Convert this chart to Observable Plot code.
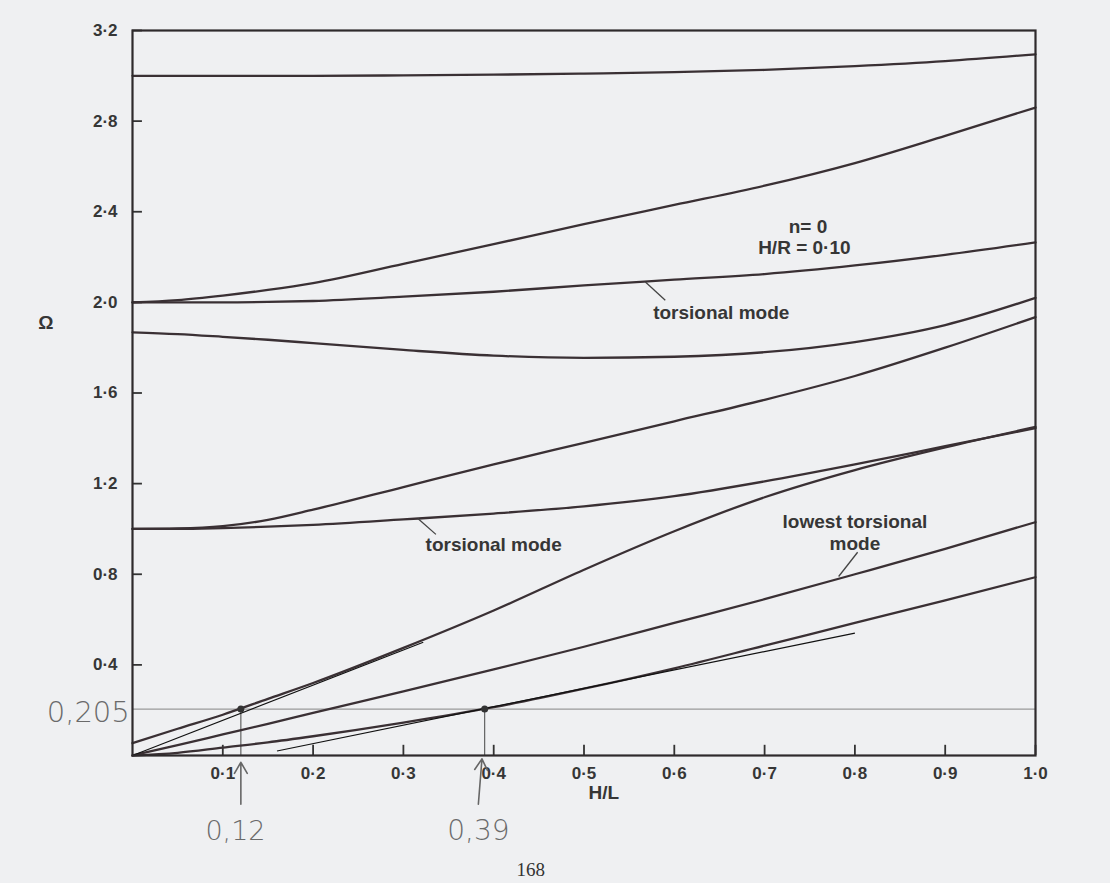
<!DOCTYPE html>
<html><head><meta charset="utf-8">
<script src="https://cdn.jsdelivr.net/npm/d3@7"></script>
<script src="https://cdn.jsdelivr.net/npm/@observablehq/plot@0.6"></script>
<style>
html,body{margin:0;padding:0;background:#eff0f2;}
</style></head><body><div id="chart"></div>
<script>
// shared H/L sample points
const xGrid = [0, 0.05, 0.1, 0.15, 0.2, 0.3, 0.4, 0.5, 0.6, 0.7, 0.8, 0.9, 1.0];
// Ω values of each branch
const modeTop      = [3.00, 3.00, 3.00, 3.00, 3.00, 3.002, 3.005, 3.01, 3.016, 3.026, 3.043, 3.065, 3.095];
const modeRising2  = [2.00, 2.01, 2.03, 2.055, 2.085, 2.17, 2.257, 2.345, 2.43, 2.515, 2.615, 2.735, 2.86];
const torsional2   = [2.00, 2.00, 2.00, 2.002, 2.006, 2.025, 2.047, 2.075, 2.10, 2.125, 2.163, 2.21, 2.265];
const modeDip      = [1.868, 1.86, 1.848, 1.835, 1.82, 1.79, 1.765, 1.755, 1.76, 1.78, 1.825, 1.90, 2.02];
const modeRising1  = [1.00, 1.002, 1.012, 1.04, 1.085, 1.185, 1.285, 1.38, 1.475, 1.57, 1.675, 1.80, 1.935];
const torsional1   = [1.00, 1.00, 1.004, 1.01, 1.018, 1.042, 1.068, 1.10, 1.145, 1.21, 1.285, 1.365, 1.445];
const modeSteep    = [0.055, 0.118, 0.18, 0.25, 0.32, 0.475, 0.64, 0.82, 0.99, 1.14, 1.26, 1.36, 1.45];
const torsional0   = [0, 0.046, 0.093, 0.14, 0.188, 0.283, 0.38, 0.48, 0.585, 0.69, 0.80, 0.912, 1.03];
const flexural     = [0, 0.012, 0.035, 0.058, 0.085, 0.145, 0.213, 0.295, 0.385, 0.485, 0.585, 0.685, 0.787];

const xTicks = [0.1, 0.2, 0.3, 0.4, 0.5, 0.6, 0.7, 0.8, 0.9, 1.0];
const yTicks = [0.4, 0.8, 1.2, 1.6, 2.0, 2.4, 2.8, 3.2];

// printed annotations
const printedLabels = [
  {x: 0.748, y: 2.335, text: "n= 0"},
  {x: 0.744, y: 2.24, text: "H/R = 0·10"},
  {x: 0.652, y: 1.955, text: "torsional mode"},
  {x: 0.40, y: 0.93, text: "torsional mode"},
  {x: 0.80, y: 1.03, text: "lowest torsional"},
  {x: 0.80, y: 0.935, text: "mode"}
];
const leaders = [
  {x1: 0.568, y1: 2.09, x2: 0.59, y2: 2.009},
  {x1: 0.316, y1: 1.046, x2: 0.336, y2: 0.976},
  {x1: 0.782, y1: 0.79, x2: 0.803, y2: 0.897}
];

// hand-drawn annotations
const handLevel = 0.205;
const handPointsX = [0.12, 0.39];
const tangents = [
  {x1: 0, y1: 0, x2: 0.322, y2: 0.50},
  {x1: 0.16, y1: 0.02, x2: 0.80, y2: 0.54}
];
const handTexts = [
  {x: -0.049, y: 0.19, text: "0,205", size: 29},
  {x: 0.114, y: -0.335, text: "0,12", size: 27},
  {x: 0.383, y: -0.335, text: "0,39", size: 28}
];
const handArrows = [
  {x1: 0.12, y1: -0.215, x2: 0.12, y2: -0.03},
  {x1: 0.383, y1: -0.215, x2: 0.387, y2: -0.015}
];
const pageNumber = [{x: 0.441, y: -0.505, text: "168"}];

const series = {modeTop, modeRising2, torsional2, modeDip, modeRising1, torsional1, modeSteep, torsional0, flexural};
const rows = [];
for (const [id, vals] of Object.entries(series)) {
  vals.forEach((v, i) => rows.push({id, x: xGrid[i], y: v}));
}

const fmt = d => d.toFixed(1).replace(".", "·");
const printFont = "'Liberation Sans', Arial, sans-serif";
const handFont = "'DejaVu Sans', sans-serif";
const ink = "#3a3034";
const printInk = "#363636";

const chart = Plot.plot({
  width: 1110,
  height: 883,
  marginLeft: 132,
  marginRight: 75,
  marginTop: 30,
  marginBottom: 128,
  x: {domain: [0, 1], axis: null},
  y: {domain: [0, 3.2], axis: null},
  style: {background: "#eff0f2", overflow: "visible"},
  marks: [
    // hand-drawn horizontal reference level
    Plot.ruleY([handLevel], {x1: 0, x2: 1, stroke: "#9a9a9a", strokeWidth: 1.3}),
    Plot.ruleX(handPointsX, {x: d => d, y1: 0, y2: handLevel, stroke: "#555", strokeWidth: 1.1}),
    // inward ticks
    Plot.ruleX(xTicks, {x: d => d, y1: 0, y2: 0.045, stroke: "#333", strokeWidth: 1.8}),
    Plot.ruleY(yTicks, {y: d => d, x1: 0, x2: 0.011, stroke: "#333", strokeWidth: 1.8}),
    // curves
    Plot.line(rows, {x: "x", y: "y", z: "id", stroke: ink, strokeWidth: 2.3, curve: "monotone-x"}),
    // tangent lines
    Plot.link(tangents, {x1: "x1", y1: "y1", x2: "x2", y2: "y2", stroke: "#111", strokeWidth: 1.2}),
    Plot.dot(handPointsX, {x: d => d, y: handLevel, r: 3.5, fill: "#333"}),
    Plot.frame({stroke: "#2e2a2c", strokeWidth: 2.2}),
    // tick labels
    Plot.text(xTicks, {x: d => d, y: 0, dy: 18, text: fmt, fontSize: 17, fontWeight: "bold", fontFamily: printFont, fill: printInk, ariaLabel: "condA x-tick-labels"}),
    Plot.text(yTicks, {x: 0, y: d => d, dx: -15, textAnchor: "end", text: fmt, fontSize: 17, fontWeight: "bold", fontFamily: printFont, fill: printInk, ariaLabel: "condA y-tick-labels"}),
    // axis titles
    Plot.text(["H/L"], {x: 0.522, y: 0, dy: 37, text: d => d, fontSize: 19, fontWeight: "bold", fontFamily: printFont, fill: printInk, ariaLabel: "condB x-title"}),
    Plot.text(["Ω"], {x: -0.096, y: 1.91, text: d => d, fontSize: 19, fontWeight: "bold", fontFamily: printFont, fill: printInk}),
    // printed labels
    Plot.link(leaders, {x1: "x1", y1: "y1", x2: "x2", y2: "y2", stroke: "#444", strokeWidth: 1.3}),
    Plot.text(printedLabels, {x: "x", y: "y", text: "text", fontSize: 19, fontWeight: "bold", fontFamily: printFont, fill: printInk, ariaLabel: "condB labels"}),
    // handwriting
    Plot.arrow(handArrows, {x1: "x1", y1: "y1", x2: "x2", y2: "y2", stroke: "#666", strokeWidth: 1.6, headLength: 12}),
    Plot.text(handTexts, {x: "x", y: "y", text: "text", fontSize: d => d.size, fontWeight: 200, fontFamily: handFont, fill: "#6a6a6a"}),
    Plot.text(pageNumber, {x: "x", y: "y", text: "text", fontSize: 19, fontFamily: "'Liberation Serif', serif", fill: "#333"})
  ]
});

// give the printed lettering its condensed look
function condense(selector, k) {
  chart.querySelectorAll(selector).forEach(t => {
    const tr = t.getAttribute("transform");
    if (tr) {
      t.setAttribute("transform", tr + ` scale(${k},1)`);
    } else {
      const x = +t.getAttribute("x") || 0, y = +t.getAttribute("y") || 0;
      t.setAttribute("x", 0); t.setAttribute("y", 0);
      t.setAttribute("transform", `translate(${x},${y}) scale(${k},1)`);
    }
  });
}
condense('g[aria-label^="condA"] text', 0.78);
condense('g[aria-label^="condB"] text', 0.86);
document.getElementById("chart").appendChild(chart);
</script>
</body></html>
